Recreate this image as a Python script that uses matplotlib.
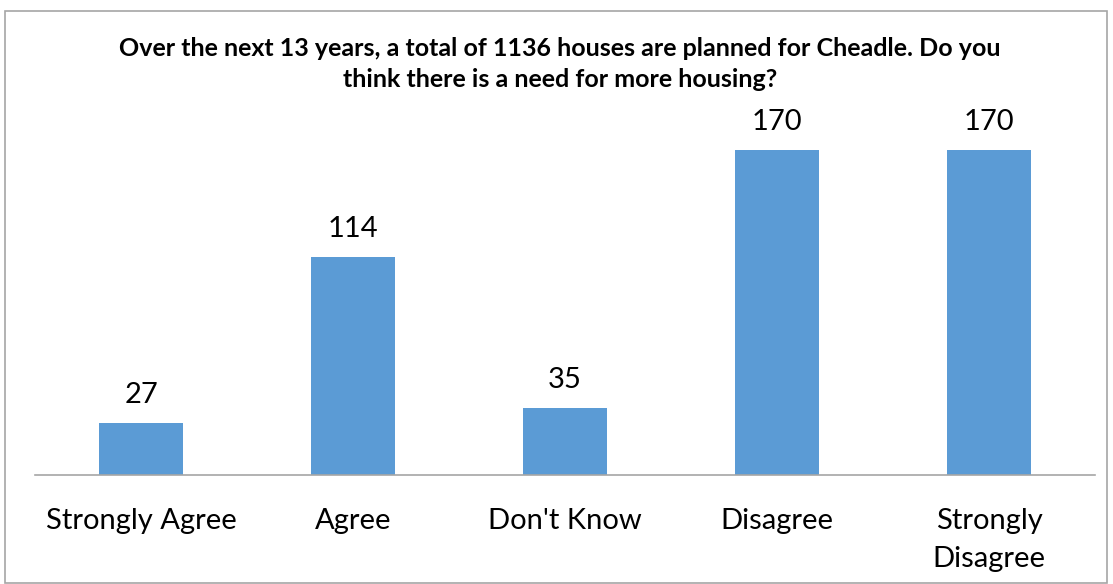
import matplotlib.pyplot as plt
import numpy as np

categories = ['Strongly Agree', 'Agree', "Don't Know", 'Disagree', 'Strongly\nDisagree']
counts = [27, 114, 35, 170, 170]
title = ('Over the next 13 years, a total of 1136 houses are planned for Cheadle. Do you\n'
         'think there is a need for more housing?')

plt.rcParams['font.family'] = ['Lato', 'DejaVu Sans']

fig = plt.figure(figsize=(11.13, 5.84), dpi=100)
# axes: x 35..1095 px, baseline at y=475, 180 units up
left, right = 35 / 1113, 1095 / 1113
bottom = 1 - 475 / 584
height = 180 * (325 / 170) / 584
ax = fig.add_axes([left, bottom, right - left, height])

x = np.arange(len(categories))
ax.bar(x, counts, width=84 / 212, color='#5B9BD5', zorder=2)
for xi, v in zip(x, counts):
    ax.annotate(str(v), (xi, v), xytext=(0, 11), textcoords='offset points',
                ha='center', va='bottom', fontsize=21)

ax.set_xlim(-0.5, len(categories) - 0.5)
ax.set_ylim(0, 180)
ax.set_yticks([])
ax.set_xticks(x)
ax.set_xticklabels(categories, fontsize=21, linespacing=1.55, va='top')
ax.tick_params(axis='x', length=0, pad=24)
for s in ['top', 'right', 'left']:
    ax.spines[s].set_visible(False)
ax.spines['bottom'].set_color('#A6A6A6')
ax.spines['bottom'].set_linewidth(1.2)

fig.text(560 / 1113, 1 - 64 / 584, title, ha='center', va='center',
         fontsize=18, fontweight='bold', linespacing=1.45)

# chart border
fig.patches.append(plt.Rectangle((5 / 1113, 0.002), 1102 / 1113, 1 - 11 / 584 - 0.002,
                                 transform=fig.transFigure, fill=False,
                                 edgecolor='#A6A6A6', linewidth=1.2))

fig.savefig('out.png', dpi=100)
